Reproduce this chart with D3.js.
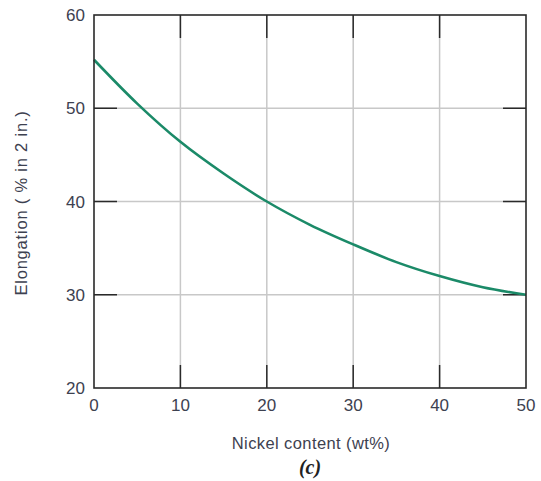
<!DOCTYPE html>
<html>
<head>
<meta charset="utf-8">
<script src="https://cdn.jsdelivr.net/npm/d3@7"></script>
<style>
  body { margin: 0; background: white; }
  text { font-family: "Liberation Sans", Arial, sans-serif; fill: #3d4150; }
</style>
</head>
<body>
<div id="container"></div>
<script>
let w = 541;
let h = 481;

// data
let nickel = [0, 5, 10, 15, 20, 25, 30, 35, 40, 45, 50];
let elongation = [55.2, 50.5, 46.4, 43.0, 40.0, 37.5, 35.4, 33.5, 32.0, 30.8, 30.0];
let xTicks = [0, 10, 20, 30, 40, 50];
let yTicks = [20, 30, 40, 50, 60];

let plotLeft = 94, plotRight = 526, plotTop = 15, plotBottom = 388;
let tickLen = 23;

let viz = d3.select("#container").append("svg")
    .attr("width", w)
    .attr("height", h);

let xScale = d3.scaleLinear().domain([0, 50]).range([plotLeft, plotRight]);
let yScale = d3.scaleLinear().domain([20, 60]).range([plotBottom, plotTop]);

// grid
viz.selectAll(".vgrid").data(xTicks.slice(1, -1)).enter()
  .append("line")
    .attr("x1", d => xScale(d)).attr("x2", d => xScale(d))
    .attr("y1", plotTop).attr("y2", plotBottom)
    .attr("stroke", "#c8c8c8").attr("stroke-width", 1.5);
viz.selectAll(".hgrid").data(yTicks.slice(1, -1)).enter()
  .append("line")
    .attr("x1", plotLeft).attr("x2", plotRight)
    .attr("y1", d => yScale(d)).attr("y2", d => yScale(d))
    .attr("stroke", "#c8c8c8").attr("stroke-width", 1.5);

// inward tick marks on all four sides
let tickColor = "#2a2a2a";
xTicks.slice(1, -1).forEach(function(d){
  viz.append("line").attr("x1", xScale(d)).attr("x2", xScale(d))
    .attr("y1", plotBottom).attr("y2", plotBottom - tickLen)
    .attr("stroke", tickColor).attr("stroke-width", 1.5);
  viz.append("line").attr("x1", xScale(d)).attr("x2", xScale(d))
    .attr("y1", plotTop).attr("y2", plotTop + tickLen)
    .attr("stroke", tickColor).attr("stroke-width", 1.5);
});
yTicks.slice(1, -1).forEach(function(d){
  viz.append("line").attr("x1", plotLeft).attr("x2", plotLeft + tickLen)
    .attr("y1", yScale(d)).attr("y2", yScale(d))
    .attr("stroke", tickColor).attr("stroke-width", 1.5);
  viz.append("line").attr("x1", plotRight).attr("x2", plotRight - tickLen)
    .attr("y1", yScale(d)).attr("y2", yScale(d))
    .attr("stroke", tickColor).attr("stroke-width", 1.5);
});

// curve
let lineMaker = d3.line()
    .x((d, i) => xScale(nickel[i]))
    .y(d => yScale(d))
    .curve(d3.curveCatmullRom);

viz.append("path")
  .attr("d", lineMaker(elongation))
  .attr("fill", "none")
  .attr("stroke", "#1b8a68")
  .attr("stroke-width", 2.6);

// frame
viz.append("rect")
  .attr("x", plotLeft).attr("y", plotTop)
  .attr("width", plotRight - plotLeft).attr("height", plotBottom - plotTop)
  .attr("fill", "none").attr("stroke", "#2a2a2a").attr("stroke-width", 1.6);

// tick labels
viz.selectAll(".xlab").data(xTicks).enter()
  .append("text")
    .attr("x", d => xScale(d))
    .attr("y", 411)
    .attr("text-anchor", "middle")
    .style("font-size", "17px")
    .text(d => d);
viz.selectAll(".ylab").data(yTicks).enter()
  .append("text")
    .attr("x", 85)
    .attr("y", d => yScale(d) + 6)
    .attr("text-anchor", "end")
    .style("font-size", "17px")
    .text(d => d);

// axis titles
viz.append("text")
  .attr("x", 311).attr("y", 449)
  .attr("text-anchor", "middle")
  .style("font-size", "16.5px")
  .style("letter-spacing", "0.4px")
  .text("Nickel content (wt%)");

viz.append("text")
  .attr("transform", "translate(27," + 203 + ") rotate(-90)")
  .attr("text-anchor", "middle")
  .style("font-size", "16.5px")
  .style("letter-spacing", "0.8px")
  .text("Elongation ( % in 2 in.)");

viz.append("text")
  .attr("x", 310).attr("y", 474)
  .attr("text-anchor", "middle")
  .style("font-family", "'Liberation Serif', serif")
  .style("font-style", "italic")
  .style("font-weight", "bold")
  .style("font-size", "20px")
  .style("fill", "#222")
  .text("(c)");
</script>
</body>
</html>
